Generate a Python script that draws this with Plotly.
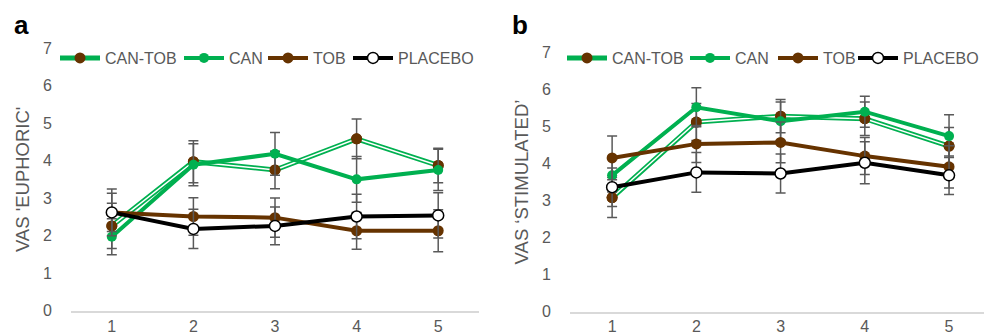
import plotly.graph_objects as go

visits = [1, 2, 3, 4, 5]
series_names = ["CAN-TOB", "CAN", "TOB", "PLACEBO"]

# Panel a: VAS 'EUPHORIC'
eu_cantob = [2.26, 3.97, 3.75, 4.58, 3.87]
eu_can = [1.97, 3.89, 4.18, 3.50, 3.75]
eu_tob = [2.62, 2.51, 2.48, 2.13, 2.13]
eu_placebo = [2.62, 2.18, 2.26, 2.51, 2.54]
eu_cantob_err = [0.60, 0.56, 0.50, 0.53, 0.46]
eu_can_err = [0.48, 0.56, 0.57, 0.61, 0.55]
eu_tob_err = [0.51, 0.50, 0.52, 0.49, 0.56]
eu_placebo_err = [0.62, 0.52, 0.50, 0.59, 0.60]

# Panel b: VAS 'STIMULATED'
st_cantob = [3.08, 5.12, 5.28, 5.21, 4.47]
st_can = [3.68, 5.52, 5.14, 5.40, 4.74]
st_tob = [4.15, 4.53, 4.57, 4.20, 3.91]
st_placebo = [3.36, 3.76, 3.73, 4.02, 3.68]
st_cantob_err = [0.54, 0.50, 0.45, 0.45, 0.50]
st_can_err = [0.45, 0.53, 0.52, 0.42, 0.58]
st_tob_err = [0.59, 0.50, 0.55, 0.50, 0.57]
st_placebo_err = [0.52, 0.54, 0.53, 0.57, 0.52]

y_ticks = [0, 1, 2, 3, 4, 5, 6, 7]

GREEN = "#00b050"
BROWN = "#663300"
BLACK = "#000000"
GRAY = "#595959"
FONT = "Liberation Sans, Arial, sans-serif"

W, H = 984, 334

fig = go.Figure()


def err(vals):
    return dict(type="data", array=vals, visible=True, color=GRAY, thickness=1.5, width=5)


def add_panel(xa, ya, legs, cantob, can, tob, plac, e_ct, e_c, e_t, e_p):
    # CAN-TOB: double green line (thick green + thin white core), brown markers
    fig.add_trace(go.Scatter(x=visits, y=cantob, name=series_names[0], mode="lines+markers",
                             line=dict(color=GREEN, width=5),
                             marker=dict(color=BROWN, size=11),
                             error_y=err(e_ct), xaxis=xa, yaxis=ya, legend=legs[0],
                             legendgroup=legs[0]))
    fig.add_trace(go.Scatter(x=visits, y=cantob, mode="lines", showlegend=False,
                             line=dict(color="white", width=1.5), hoverinfo="skip",
                             xaxis=xa, yaxis=ya, legend=legs[0], legendgroup=legs[0]))
    fig.add_trace(go.Scatter(x=visits, y=cantob, mode="markers", showlegend=False,
                             marker=dict(color=BROWN, size=11), hoverinfo="skip",
                             xaxis=xa, yaxis=ya, legend=legs[0], legendgroup=legs[0]))
    fig.add_trace(go.Scatter(x=visits, y=can, name=series_names[1], mode="lines+markers",
                             line=dict(color=GREEN, width=4),
                             marker=dict(color=GREEN, size=10),
                             error_y=err(e_c), xaxis=xa, yaxis=ya, legend=legs[1]))
    fig.add_trace(go.Scatter(x=visits, y=tob, name=series_names[2], mode="lines+markers",
                             line=dict(color=BROWN, width=4),
                             marker=dict(color=BROWN, size=11),
                             error_y=err(e_t), xaxis=xa, yaxis=ya, legend=legs[2]))
    fig.add_trace(go.Scatter(x=visits, y=plac, name=series_names[3], mode="lines+markers",
                             line=dict(color=BLACK, width=4),
                             marker=dict(color="white", size=11, line=dict(color=BLACK, width=1.5)),
                             error_y=err(e_p), xaxis=xa, yaxis=ya, legend=legs[3]))


legs_a = ["legend", "legend2", "legend3", "legend4"]
legs_b = ["legend5", "legend6", "legend7", "legend8"]

add_panel("x", "y", legs_a, eu_cantob, eu_can, eu_tob, eu_placebo,
          eu_cantob_err, eu_can_err, eu_tob_err, eu_placebo_err)
add_panel("x2", "y2", legs_b, st_cantob, st_can, st_tob, st_placebo,
          st_cantob_err, st_can_err, st_tob_err, st_placebo_err)

xcommon = dict(tickmode="array", tickvals=visits, ticktext=[str(v) for v in visits],
               showgrid=False, zeroline=False, showline=True, linecolor="#d9d9d9", linewidth=1.5,
               ticks="", tickfont=dict(family=FONT, size=16, color=GRAY), fixedrange=True,
               automargin=False, ticklabelstandoff=0)
ycommon = dict(tickmode="array", tickvals=y_ticks, range=[0, 7], showgrid=False, zeroline=False,
               showline=False, ticks="", tickfont=dict(family=FONT, size=16, color=GRAY),
               fixedrange=True, automargin=False, ticklabelstandoff=18)

legcommon = dict(orientation="h", font=dict(family=FONT, size=16, color=GRAY),
                 bgcolor="rgba(0,0,0,0)", yanchor="middle",
                 itemclick=False, itemdoubleclick=False, itemwidth=40)

# legend marker centres (px)
leg_pos_a = [80, 204, 288, 373]
leg_pos_b = [587, 710, 798, None]  # last one is pinned to the right edge
LEG_Y = 58

legend_layout = {}
for name, px in zip(legs_a + legs_b, leg_pos_a + leg_pos_b):
    if px is None:
        legend_layout[name] = dict(x=1.0, xanchor="right", y=(H - LEG_Y) / H, **legcommon)
    else:
        legend_layout[name] = dict(x=(px - 25) / W, xanchor="left", y=(H - LEG_Y) / H, **legcommon)

fig.update_layout(
    width=W, height=H,
    margin=dict(l=0, r=0, t=0, b=0),
    paper_bgcolor="white", plot_bgcolor="white",
    showlegend=True,
    xaxis=dict(domain=[71 / W, 479 / W], range=[0.5, 5.5], anchor="y", **xcommon),
    yaxis=dict(domain=[(H - 310.7) / H, (H - 48) / H], anchor="x",
               title=dict(text="VAS 'EUPHORIC'", font=dict(family=FONT, size=18.5, color=GRAY), standoff=8),
               **ycommon),
    xaxis2=dict(domain=[570 / W, 1.0], range=[0.5, 5.415], anchor="y2", **xcommon),
    yaxis2=dict(domain=[(H - 311.5) / H, (H - 52.5) / H], anchor="x2",
                title=dict(text="VAS \u2018STIMULATED\u2019", font=dict(family=FONT, size=18.5, color=GRAY), standoff=8),
                **ycommon),
    annotations=[
        dict(text="<b>a</b>", x=12 / W, y=(H - 25) / H, xref="paper", yref="paper",
             xanchor="left", yanchor="middle", showarrow=False,
             font=dict(family=FONT, size=26, color="black")),
        dict(text="<b>b</b>", x=510 / W, y=(H - 25) / H, xref="paper", yref="paper",
             xanchor="left", yanchor="middle", showarrow=False,
             font=dict(family=FONT, size=26, color="black")),
    ],
    **legend_layout,
)

fig.write_html("out.html", post_script="document.body.style.margin='0';",
               config={"displayModeBar": False})
